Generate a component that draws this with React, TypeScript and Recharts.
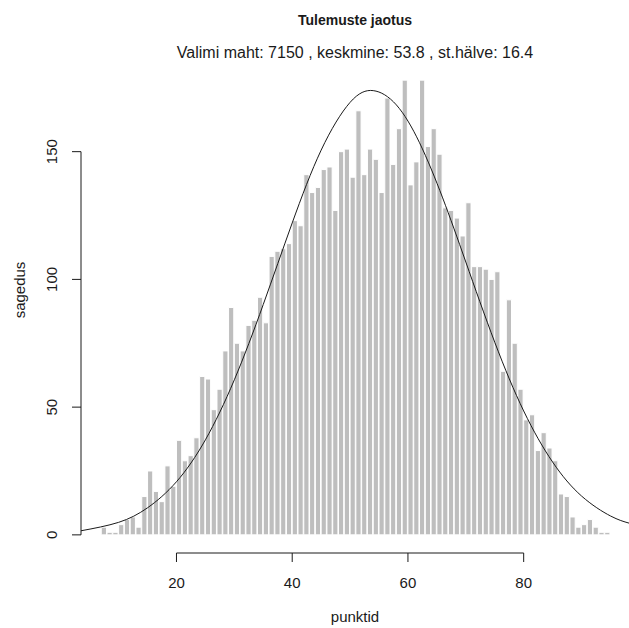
import { ComposedChart, Bar, Line, XAxis, YAxis, ReferenceLine } from 'recharts';

// ---------------------------------------------------------------------------
// Data
// ---------------------------------------------------------------------------

// left edge of each 1-point bin
const binStarts = [
  7, 8, 9, 10, 11, 12, 13, 14, 15, 16, 17, 18, 19, 20, 21, 22, 23, 24, 25, 26, 27, 28,
  29, 30, 31, 32, 33, 34, 35, 36, 37, 38, 39, 40, 41, 42, 43, 44, 45, 46, 47, 48, 49, 50,
  51, 52, 53, 54, 55, 56, 57, 58, 59, 60, 61, 62, 63, 64, 65, 66, 67, 68, 69, 70, 71, 72,
  73, 74, 75, 76, 77, 78, 79, 80, 81, 82, 83, 84, 85, 86, 87, 88, 89, 90, 91, 92, 93, 94,
];

const counts = [
  3, 1, 1, 4, 6, 7, 3, 15, 25, 17, 13, 27, 19, 37, 29, 31, 38, 62, 61, 49, 57, 72,
  89, 75, 72, 82, 84, 93, 83, 109, 111, 112, 114, 123, 121, 141, 134, 136, 143, 144, 127, 150, 151, 140,
  166, 141, 151, 147, 134, 171, 145, 159, 178, 137, 146, 178, 152, 159, 149, 128, 127, 124, 117, 130, 105, 105,
  104, 100, 103, 64, 92, 75, 57, 45, 47, 33, 40, 34, 29, 16, 15, 7, 3, 4, 6, 3, 1, 1,
];

// fitted normal curve
const curveX = [3.5, 10, 15, 20, 25, 30, 35, 40, 45, 50, 54, 58, 62, 66, 70, 75, 80, 85, 90, 95, 98.2];
const curveY = [1.6, 4.9, 10.6, 20.8, 37.2, 60.7, 90.2, 122.1, 150.6, 169.3, 173.9, 168.3, 153.5, 131.9, 106.8, 75.4, 48.5, 28.5, 15.2, 7.4, 4.6];

const xTicks = [20, 40, 60, 80];
const yTicks = [0, 50, 100, 150];

const title = 'Tulemuste jaotus';
const subtitle = 'Valimi maht: 7150 , keskmine: 53.8 , st.hälve: 16.4';
const xLabel = 'punktid';
const yLabel = 'sagedus';

// ---------------------------------------------------------------------------
// Layout
// ---------------------------------------------------------------------------

const W = 629;
const H = 628;
const PLOT_LEFT = 81;
const PLOT_TOP = 62;
const PLOT_BOTTOM = 553;
const X_DOMAIN: [number, number] = [3.5, 98.2];
const Y_DOMAIN: [number, number] = [-7.1, 185.1];
const FONT = '"Liberation Sans", Arial, Helvetica, sans-serif';
const INK = '#1a1a1a';

const barWidth = (W - PLOT_LEFT) / (X_DOMAIN[1] - X_DOMAIN[0]);

const barData = binStarts.map((s, i) => ({ mid: s + 0.5, count: counts[i] }));
const curveData = curveX.map((x, i) => ({ mid: x, curve: curveY[i] }));

function YTick({ x, y, payload }: any) {
  return (
    <text
      x={x}
      y={y}
      transform={`rotate(-90 ${x} ${y})`}
      textAnchor="middle"
      fontSize={15}
      fontFamily={FONT}
      fill={INK}
    >
      {payload.value}
    </text>
  );
}

export default function App() {
  return (
    <div style={{ position: 'absolute', left: 0, top: 0, width: W, height: H, background: '#fff' }}>
      <ComposedChart
        width={W}
        height={H}
        data={barData}
        margin={{ top: PLOT_TOP, right: 0, bottom: 0, left: 0 }}
      >
        <XAxis
          dataKey="mid"
          type="number"
          domain={X_DOMAIN}
          allowDataOverflow
          ticks={xTicks}
          height={H - PLOT_BOTTOM}
          axisLine={false}
          tickSize={9}
          tickMargin={15}
          tickLine={{ stroke: INK }}
          tick={{ fontSize: 15, fontFamily: FONT, fill: INK }}
        />
        {/* separate hidden axis for the curve so its points don't narrow the bars */}
        <XAxis
          xAxisId="curve"
          dataKey="mid"
          type="number"
          domain={X_DOMAIN}
          allowDataOverflow
          hide
        />
        <YAxis
          type="number"
          domain={Y_DOMAIN}
          allowDataOverflow
          ticks={yTicks}
          width={PLOT_LEFT}
          axisLine={false}
          tickSize={9}
          tickMargin={15}
          tickLine={{ stroke: INK }}
          tick={<YTick />}
        />
        <Bar
          dataKey="count"
          fill="#bebebe"
          stroke="#ffffff"
          strokeWidth={1}
          barSize={barWidth}
          isAnimationActive={false}
        />
        <Line
          xAxisId="curve"
          data={curveData}
          dataKey="curve"
          type="natural"
          stroke={INK}
          strokeWidth={1}
          dot={false}
          activeDot={false}
          isAnimationActive={false}
        />
        <ReferenceLine
          segment={[
            { x: xTicks[0], y: Y_DOMAIN[0] },
            { x: xTicks[xTicks.length - 1], y: Y_DOMAIN[0] },
          ]}
          stroke={INK}
          ifOverflow="visible"
        />
        <ReferenceLine
          segment={[
            { x: X_DOMAIN[0], y: yTicks[0] },
            { x: X_DOMAIN[0], y: yTicks[yTicks.length - 1] },
          ]}
          stroke={INK}
          ifOverflow="visible"
        />
      </ComposedChart>
      <svg
        width={W}
        height={H}
        style={{ position: 'absolute', left: 0, top: 0, pointerEvents: 'none' }}
      >
        <text x={355} y={25} textAnchor="middle" fontSize={14} fontWeight="bold" fontFamily={FONT} fill={INK}>
          {title}
        </text>
        <text x={355} y={58} textAnchor="middle" fontSize={16} fontFamily={FONT} fill={INK}>
          {subtitle}
        </text>
        <text x={355} y={622} textAnchor="middle" fontSize={15} fontFamily={FONT} fill={INK}>
          {xLabel}
        </text>
        <text
          x={25}
          y={290}
          transform="rotate(-90 25 290)"
          textAnchor="middle"
          fontSize={15}
          fontFamily={FONT}
          fill={INK}
        >
          {yLabel}
        </text>
      </svg>
    </div>
  );
}
